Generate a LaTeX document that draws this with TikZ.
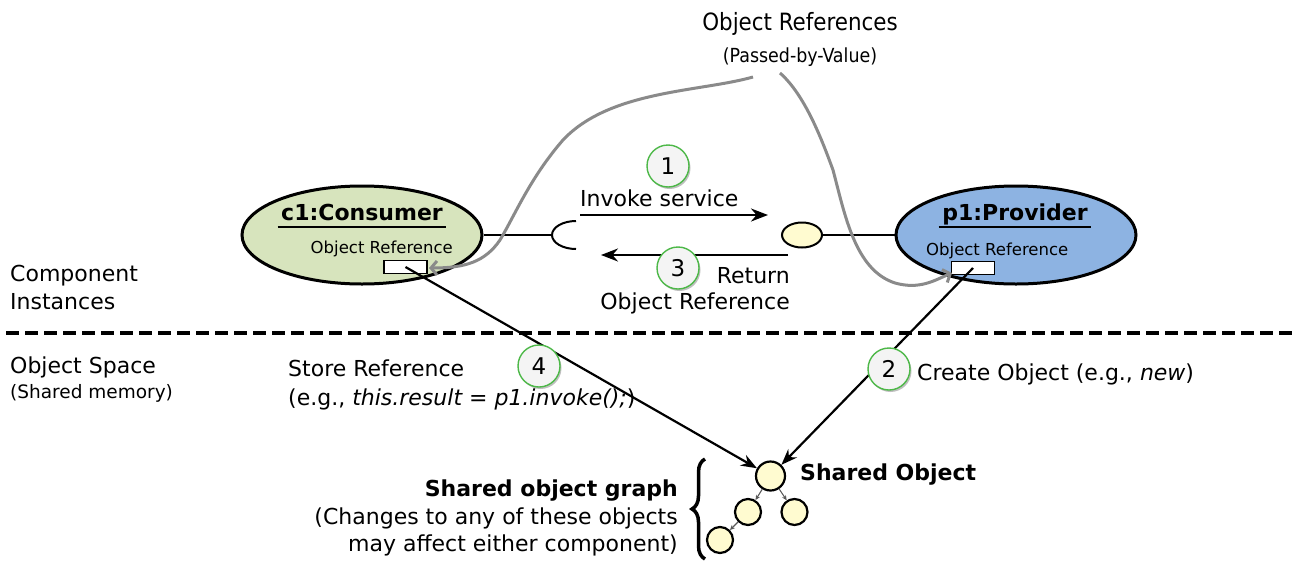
\documentclass[tikz,border=0pt]{standalone}
\usepackage{fontspec}
\setmainfont{DejaVu Sans}
\newfontfamily\handfont{DejaVu Sans Condensed}
\usetikzlibrary{shapes.geometric,arrows.meta,shadows,decorations.pathreplacing}
\definecolor{consfill}{HTML}{D7E4BD}
\definecolor{provfill}{HTML}{8DB3E2}
\definecolor{objfill}{HTML}{FFFBD0}
\definecolor{numgreen}{HTML}{4DB848}
\definecolor{numfill}{HTML}{F4F4F4}
\definecolor{curvegray}{HTML}{8A8A8A}
\begin{document}
\begin{tikzpicture}[x=1pt,y=-1pt,
  txt/.style={inner sep=0pt,font=\fontsize{22}{26}\selectfont},
  txtb/.style={inner sep=0pt,font=\fontsize{22}{26}\selectfont\bfseries},
  txts/.style={inner sep=0pt,font=\fontsize{16.5}{20}\selectfont},
  txtm/.style={inner sep=0pt,font=\fontsize{18.5}{22}\selectfont},
  hand/.style={inner sep=0pt,font=\fontsize{23.8}{28}\selectfont\handfont},
  handsmall/.style={inner sep=0pt,font=\fontsize{19.4}{23}\selectfont\handfont},
  comp/.style={ellipse,draw,line width=3pt,minimum width=240pt,minimum height=98pt,inner sep=0pt},
  refbox/.style={draw,fill=white,line width=1.6pt,minimum width=43pt,minimum height=13pt,inner sep=0pt},
  num/.style={circle,draw=numgreen,fill=numfill,line width=1.4pt,minimum size=42pt,inner sep=0pt,
    font=\fontsize{23}{27}\selectfont,
    drop shadow={shadow xshift=1.5pt,shadow yshift=-2pt,opacity=0.25,fill=black}},
  obj/.style={circle,draw,fill=objfill,line width=2.2pt,inner sep=0pt},
  arr/.style={line width=2.5pt,-{Stealth[length=17pt,width=13pt]}},
  grayarr/.style={draw=curvegray,line width=3pt,-{Straight Barb[length=6pt,width=14pt]}},
  treearr/.style={draw=black!65,line width=1.1pt,-{Stealth[length=5pt,width=4.5pt]}}
]
\useasboundingbox (0,0) rectangle (1294,560);

% hand-written label
\node[hand,anchor=base] (hw1) at (800,30) {Object References};
\node[handsmall,anchor=base] (hw2) at (800,62) {(Passed-by-Value)};

% component ellipses
\node[comp,fill=consfill] (c1) at (362,235) {};
\node[comp,fill=provfill] (p1) at (1016,235) {};
\node[txtb,anchor=base,inner xsep=3.5pt] (c1t) at (362,220) {c1:Consumer};
\draw[line width=2.5pt] ([yshift=-7pt]c1t.base west) -- ([yshift=-7pt]c1t.base east);
\node[txtb,anchor=base,inner xsep=3.5pt] (p1t) at (1015,220) {p1:Provider};
\draw[line width=2.5pt] ([yshift=-7pt]p1t.base west) -- ([yshift=-7pt]p1t.base east);
\node[txts,anchor=base east] (c1or) at (453,253) {Object Reference};
\node[txts,anchor=base west] (p1or) at (926,255) {Object Reference};
\node[refbox] (c1r) at (405.5,267) {};
\node[refbox] (p1r) at (973,268) {};

% interfaces
\node[ellipse,draw,fill=objfill,line width=2pt,minimum width=40pt,minimum height=25pt,inner sep=0pt] (lol) at (802,235) {};
\draw[line width=2pt] (lol.east) -- (p1.west);
\coordinate (sock) at (552,235);
\draw[line width=2pt] (c1.east) -- (sock);
\draw[line width=2pt] (576,221) arc[start angle=90,end angle=270,x radius=24pt,y radius=14pt];

% call arrows
\coordinate (inv1) at (580,215);
\coordinate (inv2) at (768,215);
\draw[arr] (inv1) -- (inv2);
\coordinate (ret1) at (788,255);
\coordinate (ret2) at (601,255);
\draw[arr] (ret1) -- (ret2);
\node[txt,anchor=base west] (invt) at (580,206) {Invoke service};
\node[txt,anchor=base east] (rett1) at (790,283) {Return};
\node[txt,anchor=base east] (rett2) at (790,309) {Object Reference};

% gray curves
\coordinate (gl) at (753,77);
\coordinate (gr) at (780,73);
\draw[grayarr] (gl) .. controls (700,92) and (610,90) .. (563,140)
  .. controls (530,178) and (515,215) .. (500,240)
  .. controls (485,262) and (465,268) .. (429,268);
\draw[grayarr] (gr) .. controls (805,95) and (822,140) .. (833,170)
  .. controls (845,215) and (855,270) .. (895,283)
  .. controls (920,290) and (935,280) .. (952,273);

% separator
\coordinate (dl) at (6,333);
\coordinate (dr) at (1294,333);
\draw[line width=4.5pt,dash pattern=on 13pt off 6pt] (dl) -- (dr);

% left labels
\node[txt,anchor=base west] (l1) at (10,281) {Component};
\node[txt,anchor=base west] (l2) at (10,309) {Instances};
\node[txt,anchor=base west] (l3) at (10,373) {Object Space};
\node[txtm,anchor=base west] (l4) at (10,398) {(Shared memory)};

% shared object graph
\node[obj,minimum size=29pt] (so) at (770.5,476) {};
\node[obj,minimum size=26pt] (ch1) at (748,512) {};
\node[obj,minimum size=26pt] (ch2) at (794.5,512) {};
\node[obj,minimum size=26pt] (ch3) at (720,540) {};
\draw[treearr] (so) -- (ch1);
\draw[treearr] (so) -- (ch2);
\draw[treearr] (ch1) -- (ch3);
\node[txtb,anchor=base west] (sot) at (800,480) {Shared Object};
\coordinate (br1) at (705,559);
\coordinate (br2) at (705,459);
\draw[line width=3.5pt,decorate,decoration={brace,amplitude=13pt}] (br1) -- (br2);
\node[txtb,anchor=base east] (g1) at (678,496) {Shared object graph};
\node[txt,anchor=base east] (g2) at (678,524) {(Changes to any of these objects};
\node[txt,anchor=base east] (g3) at (678,551) {may affect either component)};

% store / create arrows
\draw[line width=2.2pt,-{Stealth[length=16pt,width=12pt]}] (c1r.center) -- (so);
\draw[line width=2.2pt,-{Stealth[length=16pt,width=12pt]}] (p1r.center) -- (so);
\node[txt,anchor=base west] (st1) at (288,376) {Store Reference};
\node[txt,anchor=base west] (st2) at (288,405) {(e.g., \textit{this.result = p1.invoke();})};
\node[txt,anchor=base west] (cr) at (917,380) {Create Object (e.g., \textit{new})};

% step numbers
\node[num] (n1) at (668,166) {1};
\node[num] (n3) at (678,268) {3};
\node[num] (n4) at (539,366) {4};
\node[num] (n2) at (889,369) {2};
\end{tikzpicture}
\end{document}
